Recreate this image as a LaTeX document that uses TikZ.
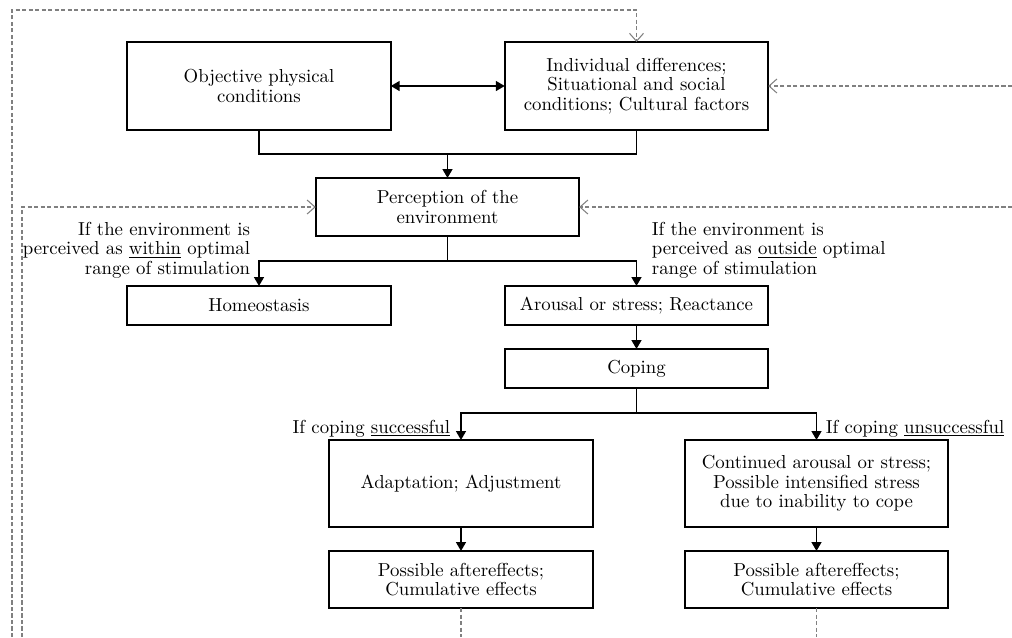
\documentclass[tikz,border=0pt]{standalone}
\usetikzlibrary{arrows.meta}
\tikzset{>={Triangle[length=5pt,width=5.5pt]}}
\tikzset{
  box/.style={draw, align=center, inner sep=0pt, outer sep=0pt, minimum width=5.27cm},
  fb/.style={draw=gray, line width=.6pt, dash pattern=on 2.3pt off 1.4pt, -{Straight Barb[length=4.5pt,width=8pt]}},
  cond/.style={inner sep=0pt, align=left}
}

\begin{document}
\begin{tikzpicture}[x=0.02cm, y=-0.02cm, line width=1pt, font=\fontsize{10.7}{11.1}\selectfont]
    \useasboundingbox (0,0) rectangle (1012,637);

    % boxes
    \node[box, minimum height=1.76cm] (obj) at (259,86) {Objective physical\\conditions};
    \node[box, minimum height=1.76cm] (ind) at (636.5,86) {Individual differences;\\Situational and social\\conditions; Cultural factors};
    \node[box, minimum height=1.16cm] (perc) at (447.5,207) {Perception of the\\environment};
    \node[box, minimum height=.78cm] (homeo) at (259,305.5) {Homeostasis};
    \node[box, minimum height=.78cm] (arous) at (636.5,305.5) {Arousal or stress; Reactance};
    \node[box, minimum height=.78cm] (cop) at (636.5,368.5) {Coping};
    \node[box, minimum height=1.74cm] (adapt) at (461,483.5) {Adaptation; Adjustment};
    \node[box, minimum height=1.74cm] (cont) at (816.5,483.5) {Continued arousal or stress;\\Possible intensified stress\\due to inability to cope};
    \node[box, minimum height=1.14cm] (aft1) at (461,579.5) {Possible aftereffects;\\Cumulative effects};
    \node[box, minimum height=1.14cm] (aft2) at (816.5,579.5) {Possible aftereffects;\\Cumulative effects};

    % branch points
    \coordinate (j1) at (447.5,154);
    \coordinate (j2) at (447.5,261);
    \coordinate (j3) at (636.5,413);

    \draw[<->] (obj) -- (ind);
    \draw (obj.south) |- (j1) -| (ind.south);
    \draw[->] (j1) -- (perc);
    \draw (perc) -- (j2);
    \draw[->] (j2) -| (homeo);
    \draw[->] (j2) -| (arous);
    \draw[->] (arous) -- (cop);
    \draw (cop) -- (j3);
    \draw[->] (j3) -| (adapt);
    \draw[->] (j3) -| (cont);
    \draw[->] (adapt) -- (aft1);
    \draw[->] (cont) -- (aft2);

    % conditions
    \node[cond, align=right, anchor=south east] (inlbl) at (251,279) {If the environment is\\perceived as \underline{within} optimal\\range of stimulation};
    \node[cond, anchor=south west] (outlbl) at (651,279) {If the environment is\\perceived as \underline{outside} optimal\\range of stimulation};
    \node[cond, anchor=base east] (oklbl) at (451,433) {If coping \underline{successful}};
    \node[cond, anchor=base west] (faillbl) at (825,433) {If coping \underline{unsuccessful}};

    % feedback loops
    \coordinate (outL) at (12,637);
    \coordinate (outT) at (636.5,10);
    \coordinate (inL) at (22,637);
    \coordinate (rT) at (1012,86);
    \coordinate (rM) at (1012,207);
    \coordinate (b1) at (461,637);
    \coordinate (b2) at (816.5,637);
    \draw[fb] (outL) |- (outT) -- (ind);
    \draw[fb] (inL) |- (perc);
    \draw[fb] (rT) -- (ind);
    \draw[fb] (rM) -- (perc);
    \draw[fb, -] (aft1) -- (b1);
    \draw[fb, -] (aft2) -- (b2);
\end{tikzpicture}
\end{document}
